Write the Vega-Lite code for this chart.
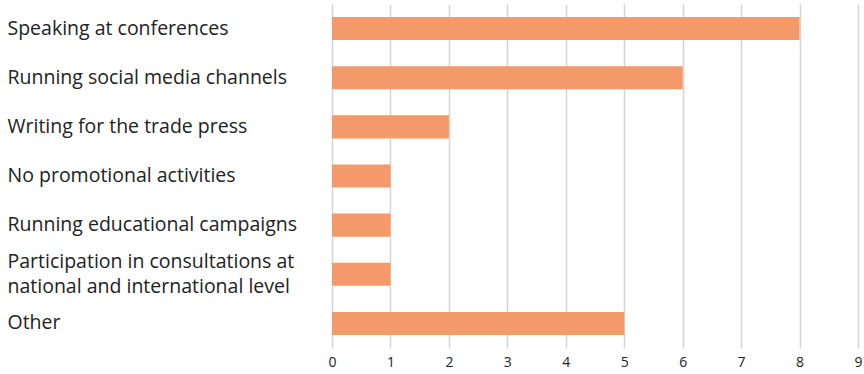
{
  "$schema": "https://vega.github.io/schema/vega-lite/v6.json",
  "width": 526,
  "height": 344,
  "autosize": "none",
  "padding": {"left": 332, "top": 4, "right": 6, "bottom": 26},
  "background": "white",
  "config": {"view": {"stroke": null}, "font": "Open Sans"},
  "data": {"values": [
    {"activity": "Speaking at conferences", "count": 8},
    {"activity": "Running social media channels", "count": 6},
    {"activity": "Writing for the trade press", "count": 2},
    {"activity": "No promotional activities", "count": 1},
    {"activity": "Running educational campaigns", "count": 1},
    {"activity": "Participation in consultations at|national and international level", "count": 1},
    {"activity": "Other", "count": 5}
  ]},
  "mark": {"type": "bar", "color": "#F4996A"},
  "encoding": {
    "y": {
      "field": "activity", "type": "nominal", "sort": null,
      "scale": {"paddingInner": 0.53, "paddingOuter": 0.265},
      "axis": {
        "title": null, "domain": false, "ticks": false,
        "labelAlign": "left", "labelPadding": 325, "labelFontSize": 19.5,
        "labelColor": "#222222", "labelLimit": 330, "labelLineHeight": 25,
        "labelOffset": {"condition": {"test": "indexof(datum.value, '|') >= 0", "value": -12.5}, "value": 0},
        "labelExpr": "split(datum.label, '|')"
      }
    },
    "x": {
      "field": "count", "type": "quantitative",
      "scale": {"domain": [0, 9], "nice": false},
      "axis": {
        "title": null, "domain": false, "ticks": false,
        "values": [0,1,2,3,4,5,6,7,8,9], "labelOverlap": false,
        "grid": true, "gridColor": "#d4d4d4", "gridWidth": 1.5,
        "labelFontSize": 14, "labelColor": "#222222", "labelPadding": 7,
        "labelFlush": false
      }
    }
  }
}
